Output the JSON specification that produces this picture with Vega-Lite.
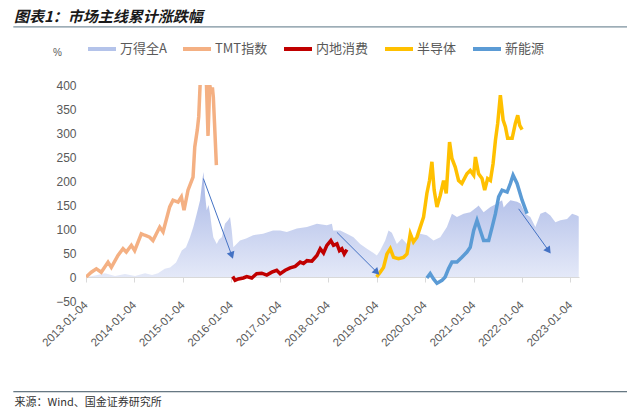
{
  "$schema": "https://vega.github.io/schema/vega-lite/v6.json",
  "autosize": {"type": "none"},
  "padding": {"left": 86, "top": 85, "right": 61, "bottom": 114},
  "width": 493,
  "height": 216,
  "background": "white",
  "config": {"view": {"stroke": null}, "font": "Noto Sans CJK SC", "axis": {"labelOverlap": false, "labelSeparation": 0}},
  "title": {"text": "图表1：市场主线累计涨跌幅", "anchor": "start", "frame": "group", "dx": -72, "dy": 13, "offset": 14, "font": "Noto Sans CJK SC", "fontSize": 15, "fontWeight": "bold", "fontStyle": "italic", "color": "#1a1a1a"},
  "datasets": {
    "main": [
      {"date": "2013-01-04", "series": "万得全A", "value": 0},
      {"date": "2013-03-13", "series": "万得全A", "value": 3},
      {"date": "2013-05-27", "series": "万得全A", "value": 8},
      {"date": "2013-08-11", "series": "万得全A", "value": 2},
      {"date": "2013-10-25", "series": "万得全A", "value": 6},
      {"date": "2014-01-09", "series": "万得全A", "value": 2},
      {"date": "2014-03-25", "series": "万得全A", "value": 8},
      {"date": "2014-05-17", "series": "万得全A", "value": 4},
      {"date": "2014-07-01", "series": "万得全A", "value": 8},
      {"date": "2014-08-21", "series": "万得全A", "value": 17},
      {"date": "2014-09-30", "series": "万得全A", "value": 20},
      {"date": "2014-11-14", "series": "万得全A", "value": 30},
      {"date": "2014-12-27", "series": "万得全A", "value": 55},
      {"date": "2015-01-28", "series": "万得全A", "value": 62},
      {"date": "2015-02-27", "series": "万得全A", "value": 83},
      {"date": "2015-03-24", "series": "万得全A", "value": 104},
      {"date": "2015-04-19", "series": "万得全A", "value": 132},
      {"date": "2015-05-14", "series": "万得全A", "value": 160},
      {"date": "2015-06-08", "series": "万得全A", "value": 219},
      {"date": "2015-06-21", "series": "万得全A", "value": 170},
      {"date": "2015-07-03", "series": "万得全A", "value": 139},
      {"date": "2015-07-17", "series": "万得全A", "value": 150},
      {"date": "2015-07-28", "series": "万得全A", "value": 132},
      {"date": "2015-08-10", "series": "万得全A", "value": 104},
      {"date": "2015-08-22", "series": "万得全A", "value": 83},
      {"date": "2015-09-17", "series": "万得全A", "value": 69},
      {"date": "2015-10-04", "series": "万得全A", "value": 78},
      {"date": "2015-10-25", "series": "万得全A", "value": 83},
      {"date": "2015-11-18", "series": "万得全A", "value": 111},
      {"date": "2015-12-11", "series": "万得全A", "value": 118},
      {"date": "2015-12-26", "series": "万得全A", "value": 125},
      {"date": "2016-01-08", "series": "万得全A", "value": 97},
      {"date": "2016-01-20", "series": "万得全A", "value": 62},
      {"date": "2016-03-10", "series": "万得全A", "value": 76},
      {"date": "2016-04-25", "series": "万得全A", "value": 80},
      {"date": "2016-06-17", "series": "万得全A", "value": 87},
      {"date": "2016-08-31", "series": "万得全A", "value": 90},
      {"date": "2016-11-14", "series": "万得全A", "value": 97},
      {"date": "2017-01-07", "series": "万得全A", "value": 97},
      {"date": "2017-02-26", "series": "万得全A", "value": 94},
      {"date": "2017-05-13", "series": "万得全A", "value": 101},
      {"date": "2017-07-28", "series": "万得全A", "value": 104},
      {"date": "2017-10-11", "series": "万得全A", "value": 111},
      {"date": "2017-12-25", "series": "万得全A", "value": 108},
      {"date": "2018-02-01", "series": "万得全A", "value": 111},
      {"date": "2018-02-11", "series": "万得全A", "value": 97},
      {"date": "2018-04-05", "series": "万得全A", "value": 97},
      {"date": "2018-05-25", "series": "万得全A", "value": 90},
      {"date": "2018-07-14", "series": "万得全A", "value": 83},
      {"date": "2018-09-02", "series": "万得全A", "value": 69},
      {"date": "2018-10-23", "series": "万得全A", "value": 59},
      {"date": "2018-12-12", "series": "万得全A", "value": 50},
      {"date": "2019-01-06", "series": "万得全A", "value": 45},
      {"date": "2019-01-31", "series": "万得全A", "value": 55},
      {"date": "2019-03-10", "series": "万得全A", "value": 76},
      {"date": "2019-04-04", "series": "万得全A", "value": 97},
      {"date": "2019-04-29", "series": "万得全A", "value": 92},
      {"date": "2019-06-06", "series": "万得全A", "value": 69},
      {"date": "2019-07-14", "series": "万得全A", "value": 80},
      {"date": "2019-08-21", "series": "万得全A", "value": 69},
      {"date": "2019-10-09", "series": "万得全A", "value": 80},
      {"date": "2019-11-29", "series": "万得全A", "value": 90},
      {"date": "2020-01-18", "series": "万得全A", "value": 87},
      {"date": "2020-03-08", "series": "万得全A", "value": 76},
      {"date": "2020-04-28", "series": "万得全A", "value": 83},
      {"date": "2020-06-17", "series": "万得全A", "value": 104},
      {"date": "2020-07-25", "series": "万得全A", "value": 132},
      {"date": "2020-09-01", "series": "万得全A", "value": 125},
      {"date": "2020-10-21", "series": "万得全A", "value": 132},
      {"date": "2020-12-10", "series": "万得全A", "value": 135},
      {"date": "2021-01-30", "series": "万得全A", "value": 146},
      {"date": "2021-02-11", "series": "万得全A", "value": 149},
      {"date": "2021-03-21", "series": "万得全A", "value": 135},
      {"date": "2021-05-11", "series": "万得全A", "value": 146},
      {"date": "2021-06-30", "series": "万得全A", "value": 153},
      {"date": "2021-08-07", "series": "万得全A", "value": 160},
      {"date": "2021-08-19", "series": "万得全A", "value": 145},
      {"date": "2021-09-14", "series": "万得全A", "value": 153},
      {"date": "2021-10-09", "series": "万得全A", "value": 160},
      {"date": "2021-11-28", "series": "万得全A", "value": 157},
      {"date": "2021-12-23", "series": "万得全A", "value": 153},
      {"date": "2022-01-30", "series": "万得全A", "value": 132},
      {"date": "2022-03-08", "series": "万得全A", "value": 125},
      {"date": "2022-04-15", "series": "万得全A", "value": 104},
      {"date": "2022-05-23", "series": "万得全A", "value": 132},
      {"date": "2022-06-30", "series": "万得全A", "value": 136},
      {"date": "2022-08-06", "series": "万得全A", "value": 128},
      {"date": "2022-09-13", "series": "万得全A", "value": 114},
      {"date": "2022-10-21", "series": "万得全A", "value": 118},
      {"date": "2022-12-10", "series": "万得全A", "value": 121},
      {"date": "2023-01-17", "series": "万得全A", "value": 132},
      {"date": "2023-02-23", "series": "万得全A", "value": 128},
      {"date": "2023-03-08", "series": "万得全A", "value": 126},
      {"date": "2013-01-04", "series": "TMT指数", "value": 0},
      {"date": "2013-02-13", "series": "TMT指数", "value": 10},
      {"date": "2013-03-23", "series": "TMT指数", "value": 17},
      {"date": "2013-04-29", "series": "TMT指数", "value": 10},
      {"date": "2013-06-19", "series": "TMT指数", "value": 31},
      {"date": "2013-07-14", "series": "TMT指数", "value": 20},
      {"date": "2013-09-02", "series": "TMT指数", "value": 45},
      {"date": "2013-10-10", "series": "TMT指数", "value": 59},
      {"date": "2013-11-04", "series": "TMT指数", "value": 52},
      {"date": "2013-12-12", "series": "TMT指数", "value": 66},
      {"date": "2014-01-06", "series": "TMT指数", "value": 55},
      {"date": "2014-02-25", "series": "TMT指数", "value": 90},
      {"date": "2014-03-23", "series": "TMT指数", "value": 87},
      {"date": "2014-04-29", "series": "TMT指数", "value": 83},
      {"date": "2014-05-24", "series": "TMT指数", "value": 76},
      {"date": "2014-07-14", "series": "TMT指数", "value": 104},
      {"date": "2014-08-08", "series": "TMT指数", "value": 94},
      {"date": "2014-09-27", "series": "TMT指数", "value": 146},
      {"date": "2014-10-22", "series": "TMT指数", "value": 160},
      {"date": "2014-11-29", "series": "TMT指数", "value": 156},
      {"date": "2014-12-24", "series": "TMT指数", "value": 167},
      {"date": "2015-01-13", "series": "TMT指数", "value": 139},
      {"date": "2015-02-12", "series": "TMT指数", "value": 181},
      {"date": "2015-03-22", "series": "TMT指数", "value": 208},
      {"date": "2015-04-04", "series": "TMT指数", "value": 271},
      {"date": "2015-04-23", "series": "TMT指数", "value": 306},
      {"date": "2015-05-04", "series": "TMT指数", "value": 334},
      {"date": "2015-05-19", "series": "TMT指数", "value": 430},
      {"date": "2015-06-28", "series": "TMT指数", "value": 430},
      {"date": "2015-07-13", "series": "TMT指数", "value": 294},
      {"date": "2015-07-26", "series": "TMT指数", "value": 400},
      {"date": "2015-08-05", "series": "TMT指数", "value": 385},
      {"date": "2015-08-15", "series": "TMT指数", "value": 395},
      {"date": "2015-08-22", "series": "TMT指数", "value": 375},
      {"date": "2015-08-31", "series": "TMT指数", "value": 320},
      {"date": "2015-09-14", "series": "TMT指数", "value": 233},
      {"date": "2016-01-15", "series": "内地消费", "value": 1},
      {"date": "2016-02-02", "series": "内地消费", "value": -7},
      {"date": "2016-02-27", "series": "内地消费", "value": -4},
      {"date": "2016-04-04", "series": "内地消费", "value": -2},
      {"date": "2016-04-30", "series": "内地消费", "value": 1},
      {"date": "2016-06-07", "series": "内地消费", "value": -2},
      {"date": "2016-07-14", "series": "内地消费", "value": 7},
      {"date": "2016-08-21", "series": "内地消费", "value": 8},
      {"date": "2016-09-28", "series": "内地消费", "value": 4},
      {"date": "2016-11-05", "series": "内地消费", "value": 10},
      {"date": "2016-12-12", "series": "内地消费", "value": 14},
      {"date": "2017-01-07", "series": "内地消费", "value": 7},
      {"date": "2017-02-14", "series": "内地消费", "value": 14},
      {"date": "2017-03-23", "series": "内地消费", "value": 19},
      {"date": "2017-04-30", "series": "内地消费", "value": 22},
      {"date": "2017-06-07", "series": "内地消费", "value": 31},
      {"date": "2017-07-02", "series": "内地消费", "value": 28},
      {"date": "2017-07-28", "series": "内地消费", "value": 34},
      {"date": "2017-09-03", "series": "内地消费", "value": 33},
      {"date": "2017-10-11", "series": "内地消费", "value": 45},
      {"date": "2017-11-05", "series": "内地消费", "value": 59},
      {"date": "2017-11-30", "series": "内地消费", "value": 50},
      {"date": "2017-12-25", "series": "内地消费", "value": 66},
      {"date": "2018-01-24", "series": "内地消费", "value": 76},
      {"date": "2018-02-13", "series": "内地消费", "value": 66},
      {"date": "2018-03-11", "series": "内地消费", "value": 69},
      {"date": "2018-03-30", "series": "内地消费", "value": 55},
      {"date": "2018-04-17", "series": "内地消费", "value": 59},
      {"date": "2018-05-05", "series": "内地消费", "value": 48},
      {"date": "2018-05-25", "series": "内地消费", "value": 57},
      {"date": "2019-01-04", "series": "半导体", "value": 0},
      {"date": "2019-01-31", "series": "半导体", "value": 10},
      {"date": "2019-02-25", "series": "半导体", "value": 20},
      {"date": "2019-03-23", "series": "半导体", "value": 48},
      {"date": "2019-04-17", "series": "半导体", "value": 59},
      {"date": "2019-05-12", "series": "半导体", "value": 41},
      {"date": "2019-06-18", "series": "半导体", "value": 38},
      {"date": "2019-07-26", "series": "半导体", "value": 41},
      {"date": "2019-08-21", "series": "半导体", "value": 48},
      {"date": "2019-09-15", "series": "半导体", "value": 90},
      {"date": "2019-10-09", "series": "半导体", "value": 73},
      {"date": "2019-11-04", "series": "半导体", "value": 83},
      {"date": "2019-11-29", "series": "半导体", "value": 104},
      {"date": "2019-12-24", "series": "半导体", "value": 125},
      {"date": "2020-01-18", "series": "半导体", "value": 174},
      {"date": "2020-02-07", "series": "半导体", "value": 201},
      {"date": "2020-02-25", "series": "半导体", "value": 240},
      {"date": "2020-03-13", "series": "半导体", "value": 181},
      {"date": "2020-04-03", "series": "半导体", "value": 146},
      {"date": "2020-04-28", "series": "半导体", "value": 170},
      {"date": "2020-05-23", "series": "半导体", "value": 201},
      {"date": "2020-06-12", "series": "半导体", "value": 174},
      {"date": "2020-07-07", "series": "半导体", "value": 281},
      {"date": "2020-07-25", "series": "半导体", "value": 247},
      {"date": "2020-08-19", "series": "半导体", "value": 229},
      {"date": "2020-09-13", "series": "半导体", "value": 201},
      {"date": "2020-10-08", "series": "半导体", "value": 195},
      {"date": "2020-11-15", "series": "半导体", "value": 215},
      {"date": "2020-12-10", "series": "半导体", "value": 222},
      {"date": "2021-01-05", "series": "半导体", "value": 212},
      {"date": "2021-01-18", "series": "半导体", "value": 250},
      {"date": "2021-02-11", "series": "半导体", "value": 215},
      {"date": "2021-03-09", "series": "半导体", "value": 205},
      {"date": "2021-03-29", "series": "半导体", "value": 181},
      {"date": "2021-04-20", "series": "半导体", "value": 205},
      {"date": "2021-05-11", "series": "半导体", "value": 201},
      {"date": "2021-05-31", "series": "半导体", "value": 236},
      {"date": "2021-06-18", "series": "半导体", "value": 285},
      {"date": "2021-07-05", "series": "半导体", "value": 320},
      {"date": "2021-07-25", "series": "半导体", "value": 379},
      {"date": "2021-08-15", "series": "半导体", "value": 327},
      {"date": "2021-09-01", "series": "半导体", "value": 313},
      {"date": "2021-09-18", "series": "半导体", "value": 289},
      {"date": "2021-10-22", "series": "半导体", "value": 289},
      {"date": "2021-11-15", "series": "半导体", "value": 320},
      {"date": "2021-12-03", "series": "半导体", "value": 337},
      {"date": "2021-12-18", "series": "半导体", "value": 316},
      {"date": "2022-01-05", "series": "半导体", "value": 307},
      {"date": "2020-01-18", "series": "新能源", "value": -2},
      {"date": "2020-02-12", "series": "新能源", "value": 7},
      {"date": "2020-03-08", "series": "新能源", "value": -4},
      {"date": "2020-04-03", "series": "新能源", "value": -13},
      {"date": "2020-05-11", "series": "新能源", "value": -7},
      {"date": "2020-06-04", "series": "新能源", "value": 0},
      {"date": "2020-06-29", "series": "新能源", "value": 17},
      {"date": "2020-07-25", "series": "新能源", "value": 31},
      {"date": "2020-09-01", "series": "新能源", "value": 31},
      {"date": "2020-10-08", "series": "新能源", "value": 41},
      {"date": "2020-11-15", "series": "新能源", "value": 52},
      {"date": "2020-12-10", "series": "新能源", "value": 62},
      {"date": "2021-01-05", "series": "新能源", "value": 97},
      {"date": "2021-01-30", "series": "新能源", "value": 118},
      {"date": "2021-02-24", "series": "新能源", "value": 97},
      {"date": "2021-03-21", "series": "新能源", "value": 76},
      {"date": "2021-04-28", "series": "新能源", "value": 76},
      {"date": "2021-05-24", "series": "新能源", "value": 104},
      {"date": "2021-06-18", "series": "新能源", "value": 132},
      {"date": "2021-07-12", "series": "新能源", "value": 167},
      {"date": "2021-08-07", "series": "新能源", "value": 181},
      {"date": "2021-09-14", "series": "新能源", "value": 177},
      {"date": "2021-10-09", "series": "新能源", "value": 195},
      {"date": "2021-10-29", "series": "新能源", "value": 212},
      {"date": "2021-11-28", "series": "新能源", "value": 195},
      {"date": "2022-01-05", "series": "新能源", "value": 160},
      {"date": "2022-02-11", "series": "新能源", "value": 132}
    ],
    "arrows": [
      {"id": 1, "d1": "2015-06-08", "v1": 205, "d2": "2016-01-08", "v2": 45},
      {"id": 2, "d1": "2018-03-11", "v1": 93, "d2": "2019-01-06", "v2": 10},
      {"id": 3, "d1": "2021-12-10", "v1": 142, "d2": "2022-07-24", "v2": 55}
    ]
  },
  "layer": [
    {
      "data": {"name": "main"},
      "transform": [{"filter": "datum.series === '万得全A'"}],
      "mark": {"type": "area", "line": false, "color": {"gradient": "linear", "x1": 0, "y1": 0, "x2": 0, "y2": 1, "stops": [{"offset": 0, "color": "#a6b5e5"}, {"offset": 1, "color": "#e4e9f8"}]}},
      "encoding": {
        "x": {
          "field": "date", "type": "temporal",
          "scale": {"type": "utc", "domain": [{"year": 2013, "month": 1, "date": 4, "utc": true}, {"year": 2023, "month": 3, "date": 10, "utc": true}]},
          "axis": {
            "values": [
              {"year": 2013, "month": 1, "date": 4, "utc": true},
              {"year": 2014, "month": 1, "date": 4, "utc": true},
              {"year": 2015, "month": 1, "date": 4, "utc": true},
              {"year": 2016, "month": 1, "date": 4, "utc": true},
              {"year": 2017, "month": 1, "date": 4, "utc": true},
              {"year": 2018, "month": 1, "date": 4, "utc": true},
              {"year": 2019, "month": 1, "date": 4, "utc": true},
              {"year": 2020, "month": 1, "date": 4, "utc": true},
              {"year": 2021, "month": 1, "date": 4, "utc": true},
              {"year": 2022, "month": 1, "date": 4, "utc": true},
              {"year": 2023, "month": 1, "date": 4, "utc": true}
            ],
            "format": "%Y-%m-%d",
            "labelAngle": -45, "labelAlign": "right", "labelBaseline": "middle",
            "offset": -24,
            "domainColor": "#d9d9d9", "tickColor": "#d9d9d9", "tickSize": 5, "grid": false,
            "labelPadding": 21, "labelFont": "Liberation Sans", "labelFontSize": 11.5, "labelColor": "#595959",
            "labelOverlap": false, "labelFlush": false,
            "title": "来源：Wind、国金证券研究所", "titleFont": "Noto Sans CJK SC", "titleFontSize": 11, "titleFontWeight": "normal", "titleColor": "#333333",
            "titleAlign": "left", "titleAnchor": "start", "titleX": -72, "titleY": 125, "titleBaseline": "middle"
          }
        },
        "y": {
          "field": "value", "type": "quantitative",
          "scale": {"domain": [-50, 400], "nice": false, "zero": false},
          "axis": {
            "tickCount": 10,
            "domain": false, "ticks": false, "grid": false,
            "labelPadding": 10, "labelFont": "Liberation Sans", "labelFontSize": 12, "labelColor": "#595959",
            "labelOverlap": false, "labelFlush": false, "labelBound": false,
            "title": "%", "titleAngle": 0, "titleX": -29, "titleY": -33, "titleAlign": "center", "titleBaseline": "middle",
            "titleFont": "Liberation Sans", "titleFontSize": 10, "titleFontWeight": "normal", "titleColor": "#595959"
          }
        },
        "y2": {"datum": 0}
      }
    },
    {
      "data": {"name": "main"},
      "transform": [{"filter": "datum.series !== '万得全A'"}],
      "mark": {"type": "line", "strokeWidth": 3.5, "clip": true},
      "encoding": {
        "x": {"field": "date", "type": "temporal"},
        "y": {"field": "value", "type": "quantitative"},
        "color": {
          "field": "series", "type": "nominal",
          "scale": {"domain": ["万得全A", "TMT指数", "内地消费", "半导体", "新能源"], "range": ["#b4c3ea", "#f4b083", "#c00000", "#ffc000", "#5b9bd5"]},
          "legend": {
            "title": null, "orient": "none", "legendX": 0, "legendY": -52, "direction": "horizontal",
            "symbolType": "stroke", "symbolStrokeWidth": 4, "symbolSize": 784,
            "labelFont": "Noto Sans CJK SC", "labelFontSize": 13, "labelColor": "#595959",
            "labelOffset": 2, "columnPadding": 8, "padding": 0
          }
        }
      }
    },
    {
      "data": {"name": "arrows"},
      "mark": {"type": "rule", "color": "#4472c4", "strokeWidth": 1},
      "encoding": {
        "x": {"field": "d1", "type": "temporal"},
        "y": {"field": "v1", "type": "quantitative"},
        "x2": {"field": "d2", "type": "temporal"},
        "y2": {"field": "v2", "type": "quantitative"}
      }
    },
    {
      "data": {"name": "arrows"},
      "transform": [{"filter": "datum.id === 1"}],
      "mark": {"type": "point", "shape": "triangle-down", "filled": true, "color": "#4472c4", "size": 65, "opacity": 1, "angle": 340},
      "encoding": {"x": {"field": "d2", "type": "temporal"}, "y": {"field": "v2", "type": "quantitative"}}
    },
    {
      "data": {"name": "arrows"},
      "transform": [{"filter": "datum.id === 2"}],
      "mark": {"type": "point", "shape": "triangle-down", "filled": true, "color": "#4472c4", "size": 65, "opacity": 1, "angle": 315},
      "encoding": {"x": {"field": "d2", "type": "temporal"}, "y": {"field": "v2", "type": "quantitative"}}
    },
    {
      "data": {"name": "arrows"},
      "transform": [{"filter": "datum.id === 3"}],
      "mark": {"type": "point", "shape": "triangle-down", "filled": true, "color": "#4472c4", "size": 65, "opacity": 1, "angle": 324},
      "encoding": {"x": {"field": "d2", "type": "temporal"}, "y": {"field": "v2", "type": "quantitative"}}
    },
    {
      "data": {"values": [{}]},
      "mark": {"type": "rule", "color": "#5a7585", "strokeWidth": 1},
      "encoding": {
        "x": {"datum": {"year": 2011, "month": 7, "date": 6, "utc": true}, "type": "temporal"},
        "x2": {"datum": {"year": 2024, "month": 3, "date": 6, "utc": true}},
        "y": {"datum": 521, "type": "quantitative"}
      }
    },
    {
      "data": {"values": [{}]},
      "mark": {"type": "rule", "color": "#3d5361", "strokeWidth": 1},
      "encoding": {
        "x": {"datum": {"year": 2011, "month": 7, "date": 6, "utc": true}, "type": "temporal"},
        "x2": {"datum": {"year": 2024, "month": 3, "date": 6, "utc": true}},
        "y": {"datum": -239, "type": "quantitative"}
      }
    }
  ]
}
